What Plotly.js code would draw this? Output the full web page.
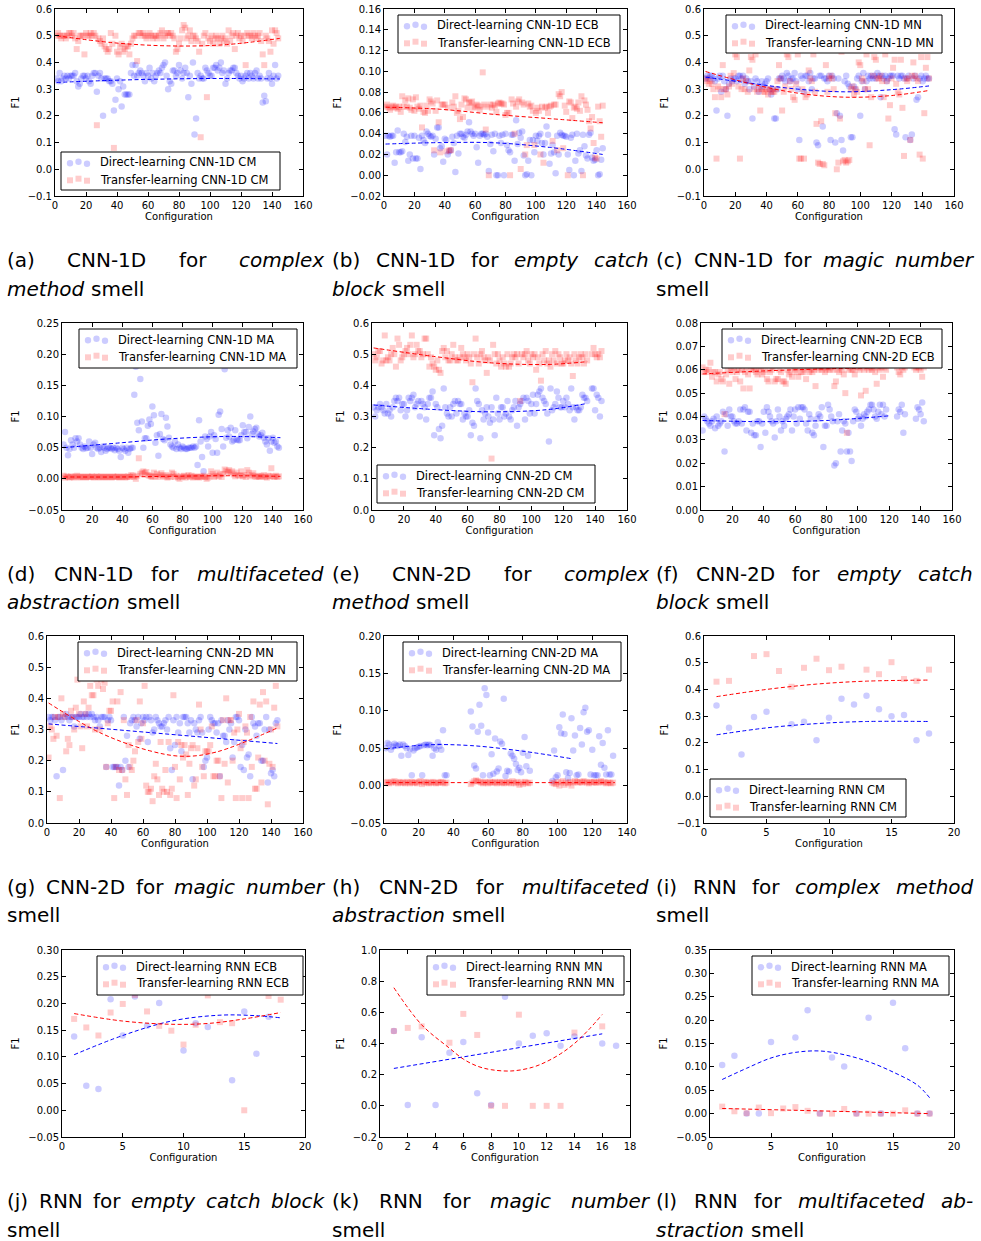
<!DOCTYPE html>
<html><head><meta charset="utf-8">
<script src="https://cdn.plot.ly/plotly-3.0.1.min.js"></script>
<style>html,body{margin:0;padding:0;background:#fff}#chart{width:981px;height:1241px}</style>
</head><body><div id="chart"></div>
<script>
// ---------------- DATA ----------------
// (a) CNN-1D complex method
const aDirect=[0.34,0.33,0.36,0.33,0.34,0.35,0.34,0.35,0.34,0.35,0.35,0.35,
0.36,0.33,0.31,0.32,0.34,0.35,0.35,0.34,0.35,0.33,0.32,0.35,
0.36,0.36,0.29,0.35,0.36,0.34,0.20,0.34,0.34,0.34,0.33,0.33,
0.32,0.22,0.26,0.34,0.30,0.33,0.235,0.31,0.28,0.28,0.28,0.28,
0.36,0.39,0.35,0.39,0.35,0.36,0.37,0.36,0.35,0.33,0.36,0.35,
0.38,0.34,0.36,0.33,0.35,0.36,0.37,0.36,0.38,0.39,0.40,0.35,
0.30,0.33,0.32,0.37,0.37,0.35,0.36,0.39,0.37,0.34,0.36,0.38,
0.36,0.27,0.35,0.32,0.40,0.13,0.19,0.36,0.34,0.35,0.34,0.34,
0.38,0.37,0.36,0.35,0.35,0.38,0.38,0.39,0.37,0.38,0.40,0.36,
0.37,0.32,0.34,0.36,0.37,0.37,0.38,0.38,0.36,0.35,0.34,0.35,
0.33,0.34,0.35,0.36,0.34,0.36,0.35,0.34,0.36,0.37,0.34,0.35,
0.34,0.25,0.275,0.255,0.34,0.36,0.34,0.32,0.35,0.39,0.34,0.35];
const aTransfer=[0.50,0.51,0.50,0.49,0.50,0.50,0.49,0.50,0.51,0.51,0.50,0.51,
0.49,0.45,0.48,0.50,0.50,0.50,0.43,0.51,0.50,0.50,0.51,0.50,
0.51,0.50,0.165,0.49,0.48,0.47,0.49,0.46,0.45,0.44,0.45,0.51,
0.47,0.08,0.50,0.44,0.43,0.46,0.47,0.44,0.45,0.46,0.46,0.43,
0.47,0.49,0.50,0.50,0.405,0.51,0.51,0.50,0.51,0.50,0.49,0.50,
0.51,0.50,0.49,0.50,0.50,0.49,0.50,0.51,0.52,0.49,0.50,0.51,
0.51,0.50,0.51,0.50,0.49,0.44,0.45,0.47,0.49,0.52,0.54,0.53,
0.49,0.50,0.52,0.48,0.50,0.50,0.49,0.48,0.44,0.12,0.47,0.50,
0.51,0.27,0.49,0.48,0.50,0.47,0.49,0.50,0.49,0.47,0.49,0.50,
0.48,0.49,0.47,0.52,0.48,0.50,0.51,0.45,0.50,0.51,0.49,0.50,
0.48,0.50,0.39,0.51,0.50,0.50,0.49,0.51,0.50,0.49,0.50,0.51,
0.48,0.43,0.39,0.50,0.49,0.48,0.44,0.52,0.47,0.52,0.51,0.49];
const aDirTrendX=[1,37,73,109,145], aDirTrend=[0.325,0.333,0.338,0.340,0.338];
const aTrTrendX=[1,37,73,109,145], aTrTrend=[0.500,0.474,0.462,0.466,0.490];

// (b) CNN-1D empty catch block
const bDirect=[0.038,0.020,0.038,0.037,0.038,0.038,0.012,0.022,0.043,0.022,0.022,0.023,
0.040,0.032,0.037,0.014,0.020,0.038,0.016,0.038,0.016,0.016,0.036,0.006,
0.038,0.034,0.031,0.042,0.040,0.038,0.037,0.038,0.020,0.035,0.046,0.046,
0.026,0.028,0.013,0.035,0.034,0.020,0.023,0.024,0.037,0.031,0.003,0.038,
0.021,0.040,0.040,0.037,0.036,0.039,0.042,0.051,0.042,0.040,0.038,0.040,
0.027,0.012,0.038,0.040,0.040,0.039,0.040,0.037,0.004,0.030,0.039,0.023,
0.040,0.000,0.000,0.038,0.031,0.039,0.000,0.040,0.029,0.024,0.022,0.039,
0.039,0.014,0.053,0.030,0.041,0.036,0.042,0.019,0.000,0.001,0.014,0.034,
0.000,0.034,0.022,0.038,0.033,0.038,0.040,0.031,0.020,0.031,0.047,0.039,
0.011,0.021,0.029,0.022,0.002,0.038,0.020,0.041,0.039,0.038,0.038,0.037,
0.020,0.005,0.036,0.039,0.000,0.014,0.040,0.021,0.024,0.004,0.039,0.028,
0.019,0.016,0.039,0.041,0.017,0.014,0.015,0.024,0.000,0.001,0.015,0.026];
const bTransfer=[0.066,0.068,0.065,0.063,0.066,0.067,0.065,0.066,0.064,0.066,0.061,0.076,
0.066,0.072,0.066,0.074,0.065,0.063,0.073,0.062,0.075,0.066,0.064,0.067,
0.046,0.061,0.060,0.067,0.062,0.073,0.071,0.069,0.024,0.062,0.072,0.051,
0.022,0.068,0.068,0.068,0.023,0.065,0.024,0.024,0.070,0.066,0.076,0.060,
0.062,0.054,0.068,0.056,0.074,0.073,0.065,0.070,0.070,0.071,0.065,0.066,
0.068,0.067,0.063,0.066,0.099,0.068,0.044,0.066,0.000,0.068,0.065,0.068,
0.067,0.061,0.069,0.070,0.069,0.069,0.068,0.058,0.060,0.060,0.000,0.073,
0.069,0.040,0.066,0.071,0.073,0.006,0.070,0.068,0.020,0.029,0.069,0.066,
0.067,0.062,0.029,0.060,0.065,0.062,0.020,0.066,0.012,0.065,0.066,0.060,
0.066,0.067,0.033,0.068,0.068,0.024,0.078,0.076,0.080,0.026,0.067,0.061,
0.000,0.071,0.070,0.055,0.065,0.066,0.064,0.070,0.062,0.076,0.000,0.072,
0.068,0.063,0.052,0.045,0.056,0.031,0.017,0.016,0.066,0.052,0.037,0.067];
const bDirTrendX=[1,37,73,109,144], bDirTrend=[0.030,0.0314,0.0312,0.0268,0.020];
const bTrTrendX=[1,37,73,109,144], bTrTrend=[0.0655,0.0635,0.0585,0.0545,0.0505];

// (c) CNN-1D magic number
const cDirect=[0.34,0.35,0.34,0.35,0.35,0.34,0.33,0.22,0.34,0.35,0.29,0.35,
0.33,0.30,0.20,0.32,0.34,0.33,0.34,0.34,0.33,0.35,0.35,0.34,
0.35,0.32,0.34,0.33,0.30,0.33,0.19,0.31,0.34,0.33,0.29,0.31,
0.33,0.31,0.32,0.33,0.34,0.30,0.28,0.30,0.19,0.19,0.30,0.34,
0.34,0.35,0.34,0.33,0.36,0.35,0.33,0.34,0.34,0.36,0.33,0.30,
0.11,0.35,0.34,0.29,0.35,0.35,0.33,0.36,0.30,0.34,0.34,0.10,
0.09,0.35,0.35,0.16,0.34,0.34,0.33,0.35,0.11,0.35,0.34,0.10,
0.21,0.34,0.20,0.11,0.07,0.33,0.35,0.32,0.31,0.12,0.12,0.31,
0.30,0.34,0.35,0.20,0.33,0.36,0.30,0.33,0.35,0.34,0.35,0.34,
0.35,0.34,0.36,0.35,0.27,0.35,0.34,0.35,0.33,0.34,0.35,0.35,
0.35,0.15,0.13,0.35,0.34,0.35,0.35,0.34,0.12,0.34,0.35,0.11,
0.13,0.34,0.35,0.26,0.27,0.34,0.35,0.33,0.34,0.35,0.34,0.34];
const cTransfer=[0.33,0.34,0.32,0.33,0.32,0.30,0.27,0.04,0.31,0.30,0.27,0.39,
0.30,0.30,0.28,0.31,0.35,0.32,0.36,0.43,0.42,0.31,0.04,0.30,
0.34,0.30,0.33,0.29,0.37,0.42,0.41,0.30,0.43,0.29,0.30,0.22,
0.30,0.29,0.29,0.30,0.28,0.30,0.29,0.29,0.29,0.30,0.33,0.39,
0.34,0.22,0.29,0.31,0.43,0.42,0.33,0.30,0.27,0.26,0.32,0.43,
0.04,0.04,0.30,0.04,0.27,0.28,0.37,0.34,0.33,0.43,0.29,0.17,
0.025,0.02,0.18,0.02,0.015,0.39,0.29,0.34,0.35,0.34,0.30,0.21,
0.00,0.025,0.19,0.44,0.03,0.035,0.025,0.03,0.035,0.30,0.31,0.28,
0.30,0.29,0.40,0.39,0.34,0.33,0.30,0.43,0.30,0.09,0.27,0.35,
0.42,0.41,0.34,0.34,0.35,0.33,0.27,0.43,0.33,0.19,0.24,0.34,
0.38,0.41,0.32,0.29,0.28,0.41,0.23,0.05,0.34,0.33,0.34,0.11,
0.35,0.40,0.35,0.34,0.33,0.055,0.42,0.04,0.21,0.38,0.42,0.34];
const cDirTrendX=[1,30,60,90,120,144], cDirTrend=[0.345,0.322,0.300,0.290,0.298,0.312];
const cTrTrendX=[1,30,60,90,120,144], cTrTrend=[0.366,0.320,0.285,0.270,0.276,0.295];

// (d) CNN-1D multifaceted abstraction
const dDirect=[0.055,0.075,0.050,0.038,0.048,0.062,0.055,0.050,0.065,0.060,0.065,0.055,
0.050,0.048,0.052,0.049,0.050,0.060,0.050,0.040,0.055,0.058,0.050,0.048,
0.050,0.043,0.052,0.050,0.045,0.048,0.050,0.050,0.048,0.050,0.046,0.050,
0.048,0.045,0.035,0.050,0.048,0.045,0.050,0.042,0.048,0.050,0.050,0.135,
0.180,0.090,0.078,0.160,0.092,0.050,0.065,0.065,0.085,0.095,0.088,0.116,
0.102,0.058,0.070,0.037,0.072,0.104,0.064,0.062,0.098,0.084,0.066,0.055,
0.052,0.050,0.060,0.048,0.055,0.050,0.048,0.052,0.050,0.048,0.048,0.050,
0.050,0.050,0.052,0.050,0.052,0.022,0.094,0.060,0.035,0.012,0.068,0.064,
0.052,0.068,0.075,0.042,0.070,0.064,0.042,0.103,0.108,0.080,0.052,0.176,
0.066,0.078,0.068,0.082,0.060,0.062,0.078,0.063,0.062,0.062,0.070,0.086,
0.075,0.075,0.065,0.083,0.100,0.072,0.076,0.080,0.082,0.072,0.068,0.070,
0.074,0.066,0.060,0.055,0.065,0.045,0.060,0.066,0.058,0.060,0.052,0.050];
const dTransfer=[0.005,0.002,0.004,0.003,0.002,0.004,0.003,0.002,0.004,0.005,0.003,0.002,
0.004,0.003,0.003,0.002,0.004,0.003,0.003,0.004,0.002,0.003,0.004,0.003,
0.002,0.004,0.003,0.003,0.002,0.004,0.003,0.003,0.002,0.004,0.003,0.003,
0.004,0.002,0.003,0.003,0.004,0.002,0.003,0.004,0.003,0.006,0.005,0.003,
0.000,0.005,0.033,0.008,0.010,0.012,0.009,0.011,0.006,0.005,0.004,0.003,
0.010,0.004,0.008,0.003,0.006,0.009,0.005,0.003,0.006,0.002,0.004,0.003,
0.010,0.008,0.003,0.005,0.002,0.000,0.004,0.003,0.005,0.002,0.004,0.006,
0.003,0.005,0.002,0.004,0.003,0.003,0.002,0.004,0.003,0.005,0.003,0.000,
0.002,0.004,0.012,0.008,0.003,0.005,0.010,0.004,0.007,0.003,0.008,0.015,
0.013,0.011,0.014,0.010,0.012,0.007,0.004,0.010,0.006,0.005,0.012,0.004,
0.006,0.003,0.014,0.010,0.004,0.006,0.009,0.004,0.003,0.005,0.003,0.004,
0.004,0.006,0.003,0.002,0.005,0.004,0.017,0.004,0.003,0.005,0.003,0.004];
const dDirTrendX=[1,40,70,110,145], dDirTrend=[0.050,0.058,0.064,0.068,0.066];
const dTrTrendX=[1,40,70,110,145], dTrTrend=[0.003,0.003,0.004,0.005,0.004];

// (e) CNN-2D complex method
const eDirect=[0.33,0.30,0.32,0.33,0.34,0.33,0.32,0.31,0.34,0.31,0.32,0.30,
0.33,0.35,0.36,0.35,0.36,0.32,0.34,0.34,0.30,0.32,0.36,0.35,
0.36,0.37,0.33,0.34,0.35,0.30,0.35,0.34,0.33,0.29,0.34,0.36,
0.36,0.38,0.24,0.34,0.33,0.26,0.23,0.27,0.39,0.33,0.31,0.30,
0.33,0.30,0.34,0.35,0.31,0.35,0.34,0.34,0.29,0.31,0.30,0.30,
0.32,0.24,0.28,0.27,0.39,0.35,0.34,0.23,0.32,0.29,0.31,0.33,
0.30,0.28,0.33,0.29,0.24,0.36,0.31,0.29,0.33,0.33,0.30,0.31,
0.35,0.30,0.29,0.32,0.33,0.35,0.27,0.33,0.34,0.35,0.36,0.29,
0.36,0.35,0.31,0.34,0.37,0.31,0.34,0.37,0.38,0.39,0.36,0.35,
0.34,0.31,0.22,0.39,0.32,0.33,0.34,0.38,0.36,0.33,0.33,0.35,
0.33,0.36,0.34,0.32,0.39,0.33,0.29,0.33,0.32,0.32,0.33,0.37,
0.36,0.36,0.35,null,null,0.39,0.39,0.32,0.37,0.36,0.30,0.35];
const eTransfer=[0.50,0.48,0.49,0.51,0.51,0.47,0.48,0.56,0.48,0.49,0.48,0.50,
0.52,0.50,0.46,0.55,0.53,0.48,0.49,0.50,0.51,0.52,0.50,0.53,
0.56,0.49,0.50,0.53,0.51,0.51,0.49,0.50,0.55,0.55,0.50,0.46,
0.49,0.47,0.46,0.45,0.48,0.45,0.44,0.51,0.52,0.49,0.51,0.48,
0.48,0.50,0.53,0.49,0.48,0.48,0.49,0.52,0.50,0.49,0.48,0.50,
0.49,0.47,0.41,0.50,0.55,0.49,0.47,0.50,0.51,0.49,0.48,0.44,
0.49,0.48,0.165,0.53,0.50,0.47,0.50,0.48,0.46,0.49,0.47,0.46,
0.50,0.46,0.47,0.49,0.50,0.49,0.50,0.47,0.35,0.50,0.49,0.50,
0.51,0.48,0.47,0.50,0.49,0.50,0.45,0.49,0.47,0.415,0.50,0.48,
0.51,0.47,0.48,0.46,0.50,0.48,0.51,0.47,0.50,0.49,0.47,0.47,
0.48,0.50,0.48,0.49,0.47,0.43,0.50,0.48,0.47,0.49,0.50,0.49,
0.47,0.50,0.48,null,null,0.50,0.52,0.50,0.49,0.50,0.49,0.51];
const eDirTrendX=[1,40,75,110,135], eDirTrend=[0.337,0.322,0.315,0.322,0.342];
const eTrTrendX=[1,40,75,110,135], eTrTrend=[0.520,0.492,0.472,0.467,0.476];

// (f) CNN-2D empty catch block
const fDirect=[0.034,0.040,0.039,0.038,0.037,0.036,0.038,0.039,0.035,0.040,0.036,0.037,
0.038,0.042,0.025,0.041,0.036,0.043,0.040,0.040,0.038,0.037,0.037,0.038,
0.043,0.037,0.043,0.044,0.034,0.042,0.042,0.033,0.037,0.032,0.032,0.038,
0.038,0.027,0.037,0.042,0.033,0.044,0.042,0.040,0.038,0.037,0.031,0.038,
0.043,0.040,0.034,0.038,0.036,0.039,0.040,0.041,0.043,0.034,0.040,0.043,
0.037,0.044,0.039,0.044,0.044,0.043,0.037,0.034,0.041,0.039,0.033,0.032,
0.036,0.039,0.041,0.040,0.044,0.027,0.036,0.036,0.045,0.043,0.040,0.038,
0.019,0.020,0.038,0.041,0.025,0.034,0.038,0.037,0.025,0.033,0.025,0.021,
0.038,0.043,0.042,0.039,0.040,0.036,0.039,0.041,0.040,0.042,0.043,0.045,
0.045,0.043,0.040,0.039,0.042,0.045,0.041,0.045,0.040,0.043,null,null,
null,null,null,null,0.040,0.043,0.042,0.045,0.033,0.041,null,null,
null,null,null,null,0.039,0.044,0.043,0.041,0.046,0.038,null,null];
const fTransfer=[0.061,0.059,0.060,0.059,0.060,0.063,0.057,0.059,0.059,0.055,0.058,0.059,
0.056,0.055,0.041,0.058,0.060,0.054,0.060,0.059,0.061,0.056,0.059,0.060,
0.055,0.060,0.052,0.059,0.061,0.058,0.052,0.060,0.060,0.061,0.059,0.058,
0.060,0.061,0.058,0.059,0.060,0.056,0.055,0.059,0.060,0.061,0.055,0.056,
0.056,0.060,0.059,0.055,0.055,0.054,0.060,0.058,0.059,0.057,0.061,0.060,
0.059,0.057,0.061,0.059,0.059,0.060,0.056,0.061,0.059,0.060,0.059,0.060,
0.053,0.061,0.060,0.061,0.060,0.061,0.059,0.060,0.061,0.060,0.061,0.060,
0.053,0.055,0.060,0.059,0.061,0.060,0.058,0.050,0.033,0.060,0.061,0.060,
0.060,0.058,0.061,0.061,0.060,0.049,0.061,0.060,0.051,0.061,0.060,0.061,
0.060,0.061,0.059,0.054,0.061,0.060,0.061,0.057,0.061,0.060,null,null,
null,null,null,null,0.061,0.059,0.058,0.061,0.060,0.061,null,null,
null,null,null,0.061,0.060,0.061,0.061,0.060,0.057,0.061,null,null];
const fDirTrendX=[1,40,80,120], fDirTrend=[0.0383,0.0378,0.0383,0.0403];
const fTrTrendX=[1,40,80,120], fTrTrend=[0.0582,0.0595,0.0604,0.0610];

// (g) CNN-2D magic number
const gDirect=[0.34,0.33,0.34,0.34,0.33,0.15,0.34,0.34,0.33,0.17,0.34,0.35,
0.34,0.33,0.34,0.34,0.31,0.34,0.34,0.34,0.35,0.34,0.34,0.35,
0.34,0.35,0.34,0.35,0.34,0.33,0.34,0.33,0.31,0.34,0.34,0.34,
0.18,0.33,0.34,0.33,0.18,0.18,0.18,0.18,0.12,0.18,0.17,0.34,
0.20,0.28,0.18,0.32,0.33,0.34,0.33,0.31,0.34,0.27,0.32,0.34,
0.33,0.34,0.26,0.34,0.33,0.29,0.30,0.34,0.33,0.32,0.31,0.31,
0.32,0.33,0.30,0.34,0.24,0.17,0.33,0.25,0.34,0.29,0.32,0.23,
0.34,0.34,0.34,0.32,0.29,0.33,0.14,0.32,0.30,0.29,0.33,0.34,
0.29,0.18,0.20,0.21,0.30,0.34,0.33,0.32,0.32,0.29,0.32,0.15,
0.33,0.28,0.28,0.26,0.33,0.30,0.32,0.21,0.26,0.34,0.34,0.33,
0.18,0.25,0.17,0.30,0.21,0.22,0.15,0.34,0.32,0.31,0.28,0.32,
0.32,0.20,0.20,0.30,0.34,0.13,0.30,0.16,0.17,0.15,0.32,0.33];
const gTransfer=[0.21,0.31,0.30,0.27,0.34,0.28,0.34,0.08,0.40,0.35,0.34,0.23,
0.27,0.25,0.36,0.34,0.30,0.37,0.46,0.35,0.31,0.24,0.39,0.35,
0.31,0.37,0.44,0.41,0.41,0.30,0.46,0.44,0.30,0.46,0.43,0.45,
0.18,0.32,0.36,0.36,0.39,0.08,0.18,0.39,0.17,0.42,0.17,0.33,
0.14,0.09,0.25,0.18,0.17,0.20,0.23,0.33,0.26,0.39,0.27,0.32,
0.44,0.12,0.10,0.10,0.11,0.07,0.15,0.19,0.14,0.09,0.26,0.11,
0.10,0.17,0.10,0.26,0.09,0.11,0.41,0.18,0.08,0.26,0.14,0.25,
0.21,0.25,0.22,0.09,0.19,0.24,0.25,0.12,0.14,0.24,0.38,0.30,
0.18,0.15,0.23,0.23,0.23,0.25,0.31,0.15,0.15,0.20,0.20,0.15,
0.08,0.33,0.19,0.40,0.13,0.33,0.33,0.20,0.29,0.08,0.30,0.35,
0.24,0.08,0.26,0.31,0.29,0.08,0.34,0.18,0.39,0.11,0.11,0.21,
0.38,0.13,0.42,0.20,0.39,0.06,0.19,0.30,0.18,0.37,0.44,0.31];
const gDirTrendX=[1,144], gDirTrend=[0.318,0.255];
const gTrTrendX=[1,33,64,85,106,144], gTrTrend=[0.385,0.290,0.232,0.214,0.228,0.305];

// (h) CNN-2D multifaceted abstraction (gaps = missing configurations)
const hDirect=[0.050,0.057,0.055,0.048,0.052,0.056,0.054,0.053,0.055,0.040,0.055,0.053,
0.050,0.041,0.049,0.014,0.047,0.050,0.051,0.052,0.053,0.014,0.054,0.055,
0.054,0.055,0.054,0.040,0.050,0.048,0.058,0.053,0.048,0.074,0.014,0.014,
null,null,null,null,null,null,null,null,null,null,null,null,null,
0.099,0.079,0.027,0.023,0.072,0.108,0.080,0.014,0.130,0.121,0.071,0.014,0.042,0.016,0.063,0.019,0.023,0.059,0.056,0.116,0.013,0.020,0.019,0.043,0.040,0.036,0.029,0.021,0.024,0.018,0.044,0.065,0.026,0.040,0.020,
null,null,null,null,null,null,null,null,null,null,null,null,
0.006,0.047,0.011,0.014,0.078,0.070,0.095,0.069,0.018,0.010,0.017,0.090,0.047,0.067,0.014,0.015,0.077,0.055,0.098,0.104,0.072,0.074,0.015,0.048,0.014,0.014,0.014,0.066,0.028,0.057,0.024,0.015,0.074,0.015,0.015,0.040];
const hTransfer=[0.004,0.005,0.003,0.004,0.005,0.006,0.004,0.003,0.005,0.004,0.004,0.003,
0.005,0.004,0.003,0.005,0.004,0.004,0.003,0.005,0.006,0.002,0.004,0.005,
0.004,0.003,0.004,0.005,0.004,0.003,0.004,0.004,0.005,0.004,0.003,0.004,
null,null,null,null,null,null,null,null,null,null,null,null,null,
0.002,0.004,0.006,0.007,0.006,0.005,0.004,0.003,0.005,0.004,0.003,0.005,0.004,0.004,0.005,0.003,0.004,0.005,0.004,0.003,0.004,0.005,0.004,0.003,0.006,0.004,0.003,0.005,0.001,0.004,0.002,0.005,0.004,0.003,0.004,
null,null,null,null,null,null,null,null,null,null,null,null,
0.004,0.003,0.002,0.005,0.000,0.004,0.006,0.001,0.004,0.003,0.005,0.000,0.004,0.006,0.005,0.004,0.005,0.004,0.006,0.005,0.004,0.003,0.005,0.004,0.005,0.004,0.004,0.005,0.006,0.004,0.005,0.003,0.004,0.004,0.003,0.004];
const hDirTrendX=[1,25,50,80,108], hDirTrend=[0.049,0.0545,0.0535,0.046,0.036];
const hTrTrendX=[1,133], hTrTrend=[0.004,0.004];

// (i) RNN complex method
const iDirect=[0.340,0.257,0.156,0.297,0.316,null,0.270,0.279,0.210,0.294,0.365,0.344,0.376,0.326,0.300,0.304,0.210,0.235];
const iTransfer=[0.429,0.432,null,0.525,0.532,0.469,0.410,0.481,0.515,0.472,0.485,null,0.474,0.457,0.502,0.439,0.432,0.474];
const iDirTrendX=[1,5,9,13,18], iDirTrend=[0.230,0.256,0.272,0.280,0.280];
const iTrTrendX=[1,5,9,13,18], iTrTrend=[0.373,0.400,0.420,0.431,0.435];

// (j) RNN empty catch block
const jDirect=[0.138,0.046,0.040,0.208,0.140,0.213,0.158,0.201,null,0.112,0.163,0.156,null,0.056,0.185,0.106,0.175,null];
const jTransfer=[0.171,0.155,0.140,0.183,0.199,0.216,0.185,0.158,0.149,0.123,0.160,0.215,0.165,0.163,0.000,null,0.214,0.207];
const jDirTrendX=[1,5,9,13,16,18], jDirTrend=[0.104,0.140,0.167,0.178,0.177,0.173];
const jTrTrendX=[1,5,9,12,15,18], jTrTrend=[0.181,0.167,0.161,0.1625,0.171,0.183];

// (k) RNN magic number
const kDirect=[0.48,0.005,0.44,0.005,0.34,0.41,0.08,0.005,0.70,0.40,0.45,0.465,0.385,0.445,null,0.40,0.385];
const kTransfer=[0.48,0.50,0.51,null,0.405,0.59,0.455,0.0,0.0,0.585,0.0,0.0,0.0,0.47,null,0.51,null];
const kDirTrendX=[1,16], kDirTrend=[0.240,0.462];
const kTrTrendX=[1,3,5,6,7,8,9.5,11,12,13,14,15,16], kTrTrend=[0.758,0.52,0.37,0.30,0.255,0.232,0.224,0.248,0.284,0.334,0.40,0.486,0.586];

// (l) RNN multifaceted abstraction
const lDirect=[0.104,0.124,0.0,0.0,0.153,null,0.163,0.221,0.0,0.120,0.101,0.0,0.205,0.0,0.237,0.140,0.0,0.0];
const lTransfer=[0.015,0.005,0.001,0.013,0.001,0.011,0.014,0.006,0.0,0.0,0.010,0.0,0.0,0.0,0.0,0.007,0.0,0.0];
const lDirTrendX=[1,3,5,7,9,11,13,15,17,18], lDirTrend=[0.073,0.097,0.119,0.131,0.134,0.126,0.111,0.089,0.061,0.034];
const lTrTrendX=[1,18], lTrTrend=[0.011,0.000];

const legendLabels=[
 ['Direct-learning CNN-1D CM','Transfer-learning CNN-1D CM'],
 ['Direct-learning CNN-1D ECB','Transfer-learning CNN-1D ECB'],
 ['Direct-learning CNN-1D MN','Transfer-learning CNN-1D MN'],
 ['Direct-learning CNN-1D MA','Transfer-learning CNN-1D MA'],
 ['Direct-learning CNN-2D CM','Transfer-learning CNN-2D CM'],
 ['Direct-learning CNN-2D ECB','Transfer-learning CNN-2D ECB'],
 ['Direct-learning CNN-2D MN','Transfer-learning CNN-2D MN'],
 ['Direct-learning CNN-2D MA','Transfer-learning CNN-2D MA'],
 ['Direct-learning RNN CM','Transfer-learning RNN CM'],
 ['Direct-learning RNN ECB','Transfer-learning RNN ECB'],
 ['Direct-learning RNN MN','Transfer-learning RNN MN'],
 ['Direct-learning RNN MA','Transfer-learning RNN MA']];

const captionLines=[
 ['(a) CNN-1D for _complex_','_method_ smell'],
 ['(b) CNN-1D for _empty catch_','_block_ smell'],
 ['(c) CNN-1D for _magic number_','smell'],
 ['(d) CNN-1D for _multifaceted_','_abstraction_ smell'],
 ['(e) CNN-2D for _complex_','_method_ smell'],
 ['(f) CNN-2D for _empty catch_','_block_ smell'],
 ['(g) CNN-2D for _magic number_','smell'],
 ['(h) CNN-2D for _multifaceted_','_abstraction_ smell'],
 ['(i) RNN for _complex method_','smell'],
 ['(j) RNN for _empty catch block_','smell'],
 ['(k) RNN for _magic number_','smell'],
 ['(l) RNN for _multifaceted ab-_','_straction_ smell']];

// ---------------- LAYOUT CONFIG ----------------
const W=981,H=1241;
const TICKFONT='DejaVu Sans';
const PANELS=[
 {box:[55,303,9,196],  xr:[0,160],xd:20,yr:[-0.1,0.6],yd:0.1,yf:'.1f',d:aDirect,t:aTransfer,dT:[aDirTrendX,aDirTrend],tT:[aTrTrendX,aTrTrend],leg:[61,280,152,190]},
 {box:[384,627,9,196], xr:[0,160],xd:20,yr:[-0.02,0.16],yd:0.02,yf:'.2f',d:bDirect,t:bTransfer,dT:[bDirTrendX,bDirTrend],tT:[bTrTrendX,bTrTrend],leg:[398,620,15,53]},
 {box:[704,954,9,196], xr:[0,160],xd:20,yr:[-0.1,0.6],yd:0.1,yf:'.1f',d:cDirect,t:cTransfer,dT:[cDirTrendX,cDirTrend],tT:[cTrTrendX,cTrTrend],leg:[726,942,15,53]},
 {box:[62,303,323,510],xr:[0,160],xd:20,yr:[-0.05,0.25],yd:0.05,yf:'.2f',d:dDirect,t:dTransfer,dT:[dDirTrendX,dDirTrend],tT:[dTrTrendX,dTrTrend],leg:[79,297,329,368]},
 {box:[372,627,323,510],xr:[0,160],xd:20,yr:[0,0.6],yd:0.1,yf:'.1f',d:eDirect,t:eTransfer,dT:[eDirTrendX,eDirTrend],tT:[eTrTrendX,eTrTrend],leg:[377,595,465,503]},
 {box:[701,952,323,510],xr:[0,160],xd:20,yr:[0,0.08],yd:0.01,yf:'.2f',d:fDirect,t:fTransfer,dT:[fDirTrendX,fDirTrend],tT:[fTrTrendX,fTrTrend],leg:[722,942,329,368]},
 {box:[47,303,636,823],xr:[0,160],xd:20,yr:[0,0.6],yd:0.1,yf:'.1f',d:gDirect,t:gTransfer,dT:[gDirTrendX,gDirTrend],tT:[gTrTrendX,gTrTrend],leg:[78,297,642,681]},
 {box:[384,627,636,823],xr:[0,140],xd:20,yr:[-0.05,0.2],yd:0.05,yf:'.2f',d:hDirect,t:hTransfer,dT:[hDirTrendX,hDirTrend],tT:[hTrTrendX,hTrTrend],leg:[403,621,642,681]},
 {box:[704,954,636,823],xr:[0,20],xd:5,yr:[-0.1,0.6],yd:0.1,yf:'.1f',d:iDirect,t:iTransfer,dT:[iDirTrendX,iDirTrend],tT:[iTrTrendX,iTrTrend],leg:[710,906,779,817]},
 {box:[62,305,950,1137],xr:[0,20],xd:5,yr:[-0.05,0.3],yd:0.05,yf:'.2f',d:jDirect,t:jTransfer,dT:[jDirTrendX,jDirTrend],tT:[jTrTrendX,jTrTrend],leg:[97,303,956,995]},
 {box:[380,630,950,1137],xr:[0,18],xd:2,yr:[-0.2,1.0],yd:0.2,yf:'.1f',d:kDirect,t:kTransfer,dT:[kDirTrendX,kDirTrend],tT:[kTrTrendX,kTrTrend],leg:[427,624,956,995]},
 {box:[710,954,950,1137],xr:[0,20],xd:5,yr:[-0.05,0.35],yd:0.05,yf:'.2f',d:lDirect,t:lTransfer,dT:[lDirTrendX,lDirTrend],tT:[lTrTrendX,lTrTrend],leg:[752,949,956,995]}
];
const BLUE_PT='rgba(0,0,255,0.2)', RED_PT='rgba(255,0,0,0.2)';
const px=x=>x/W, py=y=>1-y/H;
const configs=n=>Array.from({length:n},(_,i)=>i+1);

const traces=[];
const layout={width:W,height:H,margin:{l:0,r:0,t:0,b:0},paper_bgcolor:'#fff',plot_bgcolor:'#fff',
  showlegend:false,shapes:[],annotations:[],font:{family:TICKFONT,size:10,color:'#000'}};

PANELS.forEach((p,i)=>{
  const n=i+1, s=(n===1?'':String(n));
  const xa='x'+s, ya='y'+s;
  const eps=1e-9;
  const common={ticks:'inside',ticklen:4,tickwidth:1,tickcolor:'#000',mirror:'ticks',showline:true,linecolor:'#000',linewidth:1,
    showgrid:false,zeroline:false,tickfont:{family:TICKFONT,size:10,color:'#000'}};
  layout['xaxis'+s]=Object.assign({},common,{domain:[px(p.box[0]),px(p.box[1])],anchor:ya,range:[p.xr[0]-eps,p.xr[1]+eps],
    tickmode:'linear',tick0:0,dtick:p.xd,title:{text:'Configuration',font:{family:TICKFONT,size:10,color:'#000'},standoff:2}});
  layout['yaxis'+s]=Object.assign({},common,{domain:[py(p.box[3]),py(p.box[2])],anchor:xa,range:[p.yr[0]-eps,p.yr[1]+eps],
    tickmode:'linear',tick0:0,dtick:p.yd,tickformat:p.yf,title:{text:'F1',font:{family:TICKFONT,size:10,color:'#000'},standoff:6}});
  traces.push({type:'scatter',mode:'markers',x:configs(p.d.length),y:p.d,xaxis:xa,yaxis:ya,hoverinfo:'skip',
    marker:{symbol:'circle',size:6.5,color:BLUE_PT,line:{width:0}}});
  traces.push({type:'scatter',mode:'markers',x:configs(p.t.length),y:p.t,xaxis:xa,yaxis:ya,hoverinfo:'skip',
    marker:{symbol:'square',size:6,color:RED_PT,line:{width:0}}});
  traces.push({type:'scatter',mode:'lines',x:p.dT[0],y:p.dT[1],xaxis:xa,yaxis:ya,hoverinfo:'skip',
    line:{color:'#0000ff',width:1,dash:'4px,2.5px',shape:'spline',smoothing:1}});
  traces.push({type:'scatter',mode:'lines',x:p.tT[0],y:p.tT[1],xaxis:xa,yaxis:ya,hoverinfo:'skip',
    line:{color:'#ff0000',width:1,dash:'4px,2.5px',shape:'spline',smoothing:1}});

  // legend box
  const [L,R,T,B]=p.leg;
  layout.shapes.push({type:'rect',xref:'paper',yref:'paper',x0:px(L),x1:px(R),y0:py(B),y1:py(T),
    fillcolor:'#fff',line:{color:'#000',width:1},layer:'above'});
  const offs=[0.8,-0.8,1.2];
  [0,1].forEach(r=>{
    const cy=T+10.5+r*17;
    for(let k=0;k<3;k++){
      const cx=L+9+k*8.5, cyy=cy+offs[k];
      if(r===0){
        layout.shapes.push({type:'circle',xref:'paper',yref:'paper',x0:px(cx-3.2),x1:px(cx+3.2),y0:py(cyy+3.2),y1:py(cyy-3.2),
          fillcolor:BLUE_PT,line:{width:0},layer:'above'});
      } else {
        layout.shapes.push({type:'rect',xref:'paper',yref:'paper',x0:px(cx-3),x1:px(cx+3),y0:py(cyy+3),y1:py(cyy-3),
          fillcolor:RED_PT,line:{width:0},layer:'above'});
      }
    }
    layout.annotations.push({xref:'paper',yref:'paper',x:px(L+38),y:py(cy),xanchor:'left',yanchor:'middle',
      text:legendLabels[i][r],showarrow:false,borderpad:0,font:{family:TICKFONT,size:11.5,color:'#000'}});
  });
});

// captions (justified first line)
const CAP_FONT='DejaVu Sans', CAP_SIZE=20, CAP_W=317;
const CAP_X=[6,331,655], CAP_Y=[260,574,887,1201], CAP_DY=28.5;
const ctx=document.createElement('canvas').getContext('2d');
function tw(w,it){ctx.font=(it?'italic ':'')+CAP_SIZE+'px "'+CAP_FONT+'"';return ctx.measureText(w).width;}
function parse(line){
  const out=[];let it=false;
  line.split(' ').forEach(tok=>{
    let w=tok, start=false, end=false;
    if(w.startsWith('_')){start=true;w=w.slice(1);}
    if(w.endsWith('_')){end=true;w=w.slice(0,-1);}
    if(start) it=true;
    out.push({w:w,it:it});
    if(end) it=false;
  });
  return out;
}
captionLines.forEach((lines,i)=>{
  const col=i%3,row=Math.floor(i/3);
  lines.forEach((line,li)=>{
    const words=parse(line);
    const widths=words.map(o=>tw(o.w,o.it));
    const total=widths.reduce((a,b)=>a+b,0);
    const gap=(li===0&&words.length>1)?(CAP_W-total)/(words.length-1):tw(' ',false)*1.1;
    let x=CAP_X[col];
    const yc=CAP_Y[row]+li*CAP_DY;
    words.forEach((o,k)=>{
      layout.annotations.push({xref:'paper',yref:'paper',x:px(x),y:py(yc),xanchor:'left',yanchor:'middle',
        text:o.it?'<i>'+o.w+'</i>':o.w,showarrow:false,borderpad:0,font:{family:CAP_FONT,size:CAP_SIZE,color:'#000'}});
      x+=widths[k]+gap;
    });
  });
});

Plotly.newPlot('chart',traces,layout,{staticPlot:true,displayModeBar:false});
</script></body></html>
